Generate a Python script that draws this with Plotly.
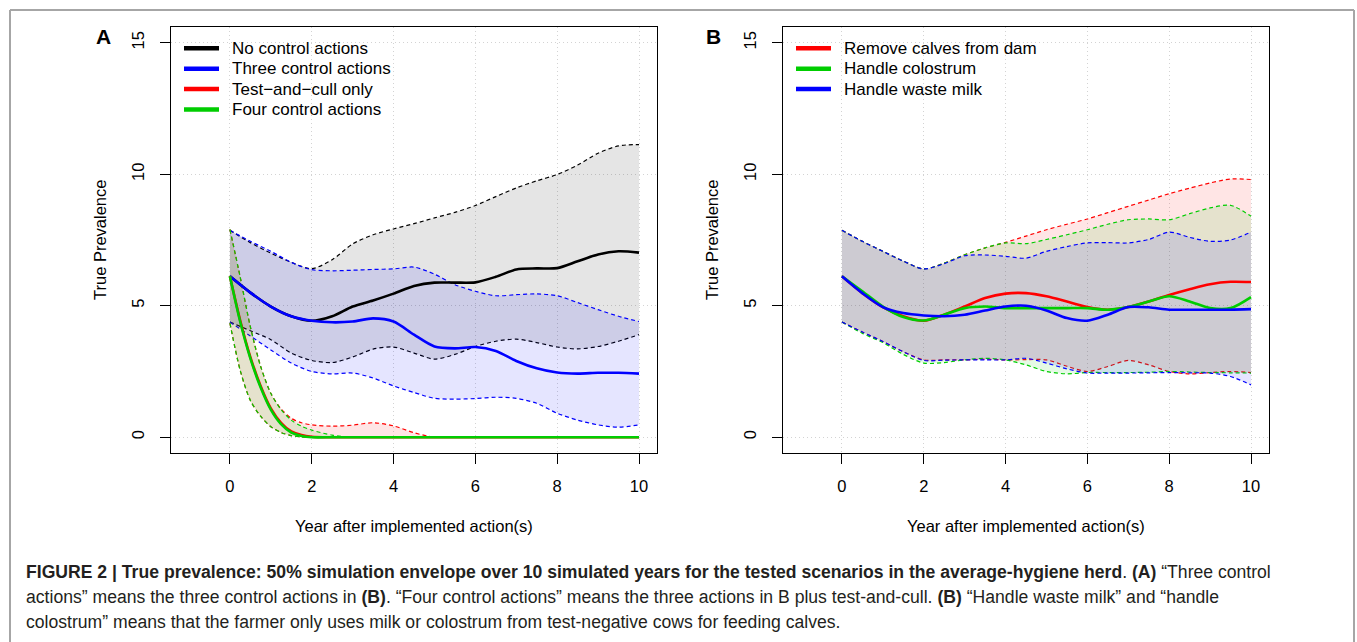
import plotly.graph_objects as go

W, H = 1357, 642

# ---------------- data ----------------
years = [0, 0.5, 1, 1.5, 2, 2.5, 3, 3.5, 4, 4.5, 5, 5.5, 6, 6.5, 7, 7.5, 8, 8.5, 9, 9.5, 10]
years_q = [0, 0.25, 0.5, 0.75, 1, 1.25, 1.5, 1.75, 2, 2.5, 3, 3.5, 4, 4.5, 5,
           5.5, 6, 6.5, 7, 7.5, 8, 8.5, 9, 9.5, 10]

# Panel A
a_none_med = [6.12, 5.5, 4.97, 4.6, 4.43, 4.6, 4.97, 5.2, 5.46, 5.75, 5.88, 5.88, 5.89,
              6.1, 6.38, 6.42, 6.43, 6.69, 6.95, 7.07, 7.02]
a_none_up = [7.87, 7.4, 7.0, 6.65, 6.41, 6.75, 7.35, 7.7, 7.92, 8.12, 8.34, 8.55, 8.81,
             9.15, 9.48, 9.75, 9.99, 10.35, 10.8, 11.08, 11.13]
a_none_lo = [4.38, 4.05, 3.71, 3.2, 2.92, 2.84, 3.05, 3.35, 3.43, 3.2, 2.97, 3.15, 3.45,
             3.65, 3.73, 3.6, 3.43, 3.36, 3.45, 3.65, 3.9]

a_three_med = [6.12, 5.5, 4.97, 4.6, 4.43, 4.37, 4.4, 4.52, 4.4, 3.9, 3.45, 3.38, 3.43,
               3.28, 2.9, 2.62, 2.46, 2.42, 2.45, 2.45, 2.42]
a_three_up = [7.87, 7.45, 7.07, 6.65, 6.37, 6.33, 6.35, 6.38, 6.4, 6.47, 6.2, 5.8, 5.55,
              5.38, 5.42, 5.45, 5.38, 5.12, 4.85, 4.6, 4.4]
a_three_lo = [4.38, 3.85, 3.32, 2.82, 2.5, 2.41, 2.44, 2.25, 1.95, 1.7, 1.48, 1.45, 1.47,
              1.52, 1.48, 1.29, 0.91, 0.65, 0.47, 0.38, 0.47]

a_tc_med = [6.12, 4.45, 3.05, 1.95, 1.1, 0.55, 0.22, 0.08, 0.02, 0, 0, 0, 0, 0, 0,
            0, 0, 0, 0, 0, 0, 0, 0, 0, 0]
a_tc_up = [7.9, 6.1, 4.2, 2.7, 1.67, 1.08, 0.72, 0.55, 0.47, 0.42, 0.46, 0.55, 0.43, 0.17, 0,
           0, 0, 0, 0, 0, 0, 0, 0, 0, 0]
a_tc_lo = [4.34, 2.55, 1.4, 0.8, 0.4, 0.18, 0.06, 0.01, 0, 0, 0, 0, 0, 0, 0,
           0, 0, 0, 0, 0, 0, 0, 0, 0, 0]

a_four_med = [6.12, 4.4, 3.0, 1.9, 1.05, 0.5, 0.18, 0.05, 0, 0, 0, 0, 0, 0, 0,
              0, 0, 0, 0, 0, 0, 0, 0, 0, 0]
a_four_up = [7.9, 6.1, 4.2, 2.7, 1.67, 1.05, 0.65, 0.42, 0.27, 0.08, 0, 0, 0, 0, 0,
             0, 0, 0, 0, 0, 0, 0, 0, 0, 0]
a_four_lo = [4.34, 2.55, 1.4, 0.8, 0.4, 0.18, 0.06, 0.01, 0, 0, 0, 0, 0, 0, 0,
             0, 0, 0, 0, 0, 0, 0, 0, 0, 0]

# Panel B
b_calves_med = [6.12, 5.48, 4.95, 4.6, 4.43, 4.66, 4.97, 5.29, 5.46, 5.48, 5.36, 5.16, 4.95,
                4.85, 4.95, 5.16, 5.41, 5.63, 5.82, 5.91, 5.9]
b_calves_up = [7.87, 7.45, 7.07, 6.7, 6.4, 6.62, 6.94, 7.2, 7.41, 7.65, 7.89, 8.1, 8.3,
               8.54, 8.78, 9.02, 9.26, 9.47, 9.67, 9.82, 9.8]
b_calves_lo = [4.38, 4.0, 3.64, 3.25, 2.94, 2.94, 2.94, 2.97, 2.94, 2.95, 2.94, 2.7, 2.5,
               2.69, 2.92, 2.75, 2.5, 2.41, 2.46, 2.5, 2.46]

b_colos_med = [6.12, 5.55, 4.97, 4.57, 4.44, 4.66, 4.91, 4.97, 4.91, 4.91, 4.91, 4.91, 4.91,
               4.85, 4.95, 5.16, 5.36, 5.16, 4.91, 4.91, 5.33]
b_colos_up = [7.87, 7.45, 7.07, 6.7, 6.4, 6.62, 6.94, 7.2, 7.39, 7.36, 7.52, 7.7, 7.89,
              8.1, 8.27, 8.3, 8.27, 8.5, 8.72, 8.82, 8.4]
b_colos_lo = [4.38, 3.95, 3.6, 3.15, 2.82, 2.84, 2.94, 3.0, 2.94, 2.75, 2.5, 2.41, 2.46,
              2.46, 2.46, 2.47, 2.5, 2.48, 2.46, 2.45, 2.44]

b_milk_med = [6.12, 5.48, 4.95, 4.72, 4.63, 4.6, 4.66, 4.82, 4.97, 5.0, 4.82, 4.53, 4.43,
              4.66, 4.95, 4.94, 4.85, 4.85, 4.85, 4.85, 4.87]
b_milk_up = [7.87, 7.45, 7.07, 6.7, 6.4, 6.6, 6.9, 6.93, 6.88, 6.81, 7.07, 7.25, 7.39,
             7.4, 7.39, 7.52, 7.8, 7.6, 7.45, 7.5, 7.8]
b_milk_lo = [4.38, 4.0, 3.64, 3.25, 2.92, 2.93, 2.94, 2.94, 2.94, 3.0, 2.82, 2.6, 2.44,
             2.44, 2.44, 2.45, 2.46, 2.45, 2.44, 2.31, 1.99]

x_ticks = [0, 2, 4, 6, 8, 10]
y_ticks = [0, 5, 10, 15]

names_a = ["No control actions", "Three control actions", "Test\u2212and\u2212cull only",
           "Four control actions"]
names_b = ["Remove calves from dam", "Handle colostrum", "Handle waste milk"]

BLACK, BLUE, RED, GREEN = "#000000", "#0000ff", "#ff0000", "#00cd00"
colors_a = [BLACK, BLUE, RED, GREEN]
colors_b = [RED, GREEN, BLUE]
FILL = {BLACK: "rgba(0,0,0,0.1)", BLUE: "rgba(0,0,255,0.1)",
        RED: "rgba(255,0,0,0.1)", GREEN: "rgba(0,205,0,0.1)"}

FONT = "Liberation Sans, Arial, Helvetica, sans-serif"

fig = go.Figure()


def band(xs, up, lo, color, xa, ya):
    style = dict(color=color, width=1.2, dash="4px,3px", shape="spline", smoothing=0.8)
    fig.add_trace(go.Scatter(x=xs, y=up, mode="lines", xaxis=xa, yaxis=ya, line=style,
                             showlegend=False, hoverinfo="skip"))
    fig.add_trace(go.Scatter(x=xs, y=lo, mode="lines", xaxis=xa, yaxis=ya, fill="tonexty",
                             fillcolor=FILL[color], line=style,
                             showlegend=False, hoverinfo="skip"))


def median(xs, ys, color, name, xa, ya):
    fig.add_trace(go.Scatter(x=xs, y=ys, mode="lines", xaxis=xa, yaxis=ya, name=name,
                             line=dict(color=color, width=2.6, shape="spline", smoothing=0.8),
                             showlegend=False))


# Panel A
band(years, a_none_up, a_none_lo, BLACK, "x", "y")
band(years, a_three_up, a_three_lo, BLUE, "x", "y")
band(years_q, a_tc_up, a_tc_lo, RED, "x", "y")
band(years_q, a_four_up, a_four_lo, GREEN, "x", "y")
median(years, a_none_med, BLACK, names_a[0], "x", "y")
median(years, a_three_med, BLUE, names_a[1], "x", "y")
median(years_q, a_tc_med, RED, names_a[2], "x", "y")
median(years_q, a_four_med, GREEN, names_a[3], "x", "y")

# Panel B
band(years, b_calves_up, b_calves_lo, RED, "x2", "y2")
band(years, b_colos_up, b_colos_lo, GREEN, "x2", "y2")
band(years, b_milk_up, b_milk_lo, BLUE, "x2", "y2")
median(years, b_calves_med, RED, names_b[0], "x2", "y2")
median(years, b_colos_med, GREEN, names_b[1], "x2", "y2")
median(years, b_milk_med, BLUE, names_b[2], "x2", "y2")


def px(x):
    return x / W


def py(y):
    return 1 - y / H


grid = dict(showgrid=True, gridcolor="#d3d3d3", griddash="1px,3px", gridwidth=1)
xa_common = dict(range=[-1.44, 10.44], tickvals=x_ticks, ticks="outside", ticklen=10,
                 tickcolor="#000", tickwidth=1, showline=True, mirror=True, linecolor="#000",
                 linewidth=1, zeroline=False,
                 tickfont=dict(size=16.5, color="#000", family=FONT),
                 ticklabelstandoff=8, fixedrange=True, **grid)
ya_common = dict(range=[-0.6, 15.6], tickvals=y_ticks, ticks="outside", ticklen=10,
                 tickcolor="#000", tickwidth=1, showline=True, mirror=True, linecolor="#000",
                 linewidth=1, zeroline=False, tickangle=-90,
                 tickfont=dict(size=16.5, color="#000", family=FONT),
                 ticklabelstandoff=9, fixedrange=True, domain=[py(453), py(27)], **grid)

annotations = [
    dict(text="<b>A</b>", x=px(103), y=py(37), font=dict(size=21)),
    dict(text="<b>B</b>", x=px(713), y=py(37), font=dict(size=21)),
    dict(text="True Prevalence", x=px(100), y=py(240), textangle=-90, font=dict(size=16.5)),
    dict(text="True Prevalence", x=px(712), y=py(240), textangle=-90, font=dict(size=16.5)),
    dict(text="Year after implemented action(s)", x=px(414), y=py(526), font=dict(size=16.5)),
    dict(text="Year after implemented action(s)", x=px(1026), y=py(526), font=dict(size=16.5)),
]
for a in annotations:
    a.update(xref="paper", yref="paper", showarrow=False, xanchor="center", yanchor="middle")
    a["font"].update(color="#000", family=FONT)

shapes = []


# legends (drawn as keys: thick line + label), rows at fixed spacing
def add_legend(names, colors, x_line0, x_line1, x_text, y0, dy):
    for i, (n, c) in enumerate(zip(names, colors)):
        yy = y0 + dy * i
        shapes.append(dict(type="line", xref="paper", yref="paper",
                           x0=px(x_line0), x1=px(x_line1), y0=py(yy), y1=py(yy),
                           line=dict(color=c, width=4.5)))
        annotations.append(dict(text=n, xref="paper", yref="paper", x=px(x_text), y=py(yy),
                                xanchor="left", yanchor="middle", showarrow=False,
                                font=dict(size=17, color="#000", family=FONT)))


add_legend(names_a, colors_a, 184, 219, 230, 48.3, 20.4)
add_legend(names_b, colors_b, 796, 831, 842, 48.3, 20.4)

cap_lines = [
    "<b>FIGURE 2 | True prevalence: 50% simulation envelope over 10 simulated years for the "
    "tested scenarios in the average-hygiene herd</b>. <b>(A)</b> \u201cThree control",
    "actions\u201d means the three control actions in <b>(B)</b>. \u201cFour control actions\u201d "
    "means the three actions in B plus test-and-cull. <b>(B)</b> \u201cHandle waste milk\u201d "
    "and \u201chandle",
    "colostrum\u201d means that the farmer only uses milk or colostrum from test-negative cows "
    "for feeding calves.",
]
for i, t in enumerate(cap_lines):
    annotations.append(dict(text=t, xref="paper", yref="paper", x=px(24), y=py(572 + 25 * i),
                            xanchor="left", yanchor="middle", showarrow=False,
                            font=dict(size=17.6, color="#231f20", family=FONT)))

frame = dict(color="#a6a6a6", width=2)
shapes += [
    dict(type="line", xref="paper", yref="paper", x0=px(10), x1=px(10), y0=py(10), y1=-0.05,
         line=frame),
    dict(type="line", xref="paper", yref="paper", x0=px(10), x1=px(1354), y0=py(10), y1=py(10),
         line=frame),
    dict(type="line", xref="paper", yref="paper", x0=px(1354), x1=px(1354), y0=py(10), y1=-0.05,
         line=frame),
]

fig.update_layout(
    width=W, height=H, autosize=False,
    margin=dict(l=0, r=0, t=0, b=0, pad=0),
    paper_bgcolor="white", plot_bgcolor="white",
    font=dict(family=FONT, color="#000"),
    xaxis=dict(domain=[px(171), px(657)], anchor="y", **xa_common),
    yaxis=dict(anchor="x", **ya_common),
    xaxis2=dict(domain=[px(783), px(1269)], anchor="y2", **xa_common),
    yaxis2=dict(anchor="x2", **ya_common),
    annotations=annotations,
    shapes=shapes,
    showlegend=False,
)

fig.write_html("out.html",
               config={"displayModeBar": False, "staticPlot": False},
               post_script="document.body.style.margin='0px';"
                           "document.body.style.overflow='hidden';")
